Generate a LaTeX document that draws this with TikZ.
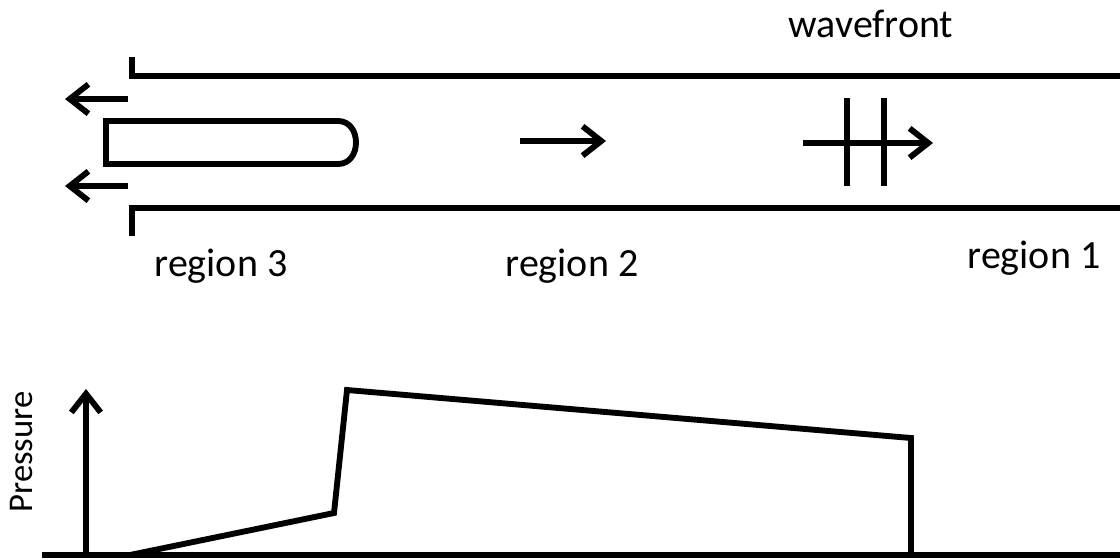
\documentclass[tikz,border=0pt]{standalone}
\usepackage{fontspec}
\setmainfont{Carlito}
\usetikzlibrary{arrows.meta}
\begin{document}
\begin{tikzpicture}[x=0.75pt,y=-0.75pt,
  thick line/.style={line width=4.4pt},
  barb/.style={-{Straight Barb[length=14pt,width=22pt,line width=4.4pt]}},
  lbl/.style={font=\fontsize{30}{36}\selectfont, anchor=base, inner sep=0pt}]
\useasboundingbox (0,0) rectangle (1120,560);
% tube
\draw[thick line] (132,57) -- (132,76) -- (1125,76);
\draw[thick line] (132,236) -- (132,208) -- (1125,208);
% left outflow arrows
\coordinate (la1) at (128,99);
\coordinate (la1t) at (65,99);
\coordinate (la2) at (128,186);
\coordinate (la2t) at (65,186);
\draw[thick line,barb] (la1) -- (la1t);
\draw[thick line,barb] (la2) -- (la2t);
% probe
\draw[thick line] (338,121) -- (106,121) -- (106,164) -- (338,164)
  .. controls (362,164) and (362,121) .. (338,121) -- cycle;
% region 2 arrow
\coordinate (m1) at (520,141);
\coordinate (m2) at (606,141);
\draw[thick line,barb] (m1) -- (m2);
% wavefront arrow
\coordinate (w1) at (803,143);
\coordinate (w2) at (933,143);
\draw[thick line,barb] (w1) -- (w2);
\draw[thick line] (847,98) -- (847,186);
\draw[thick line] (884,98) -- (884,186);
% labels
\node[lbl] (wf) at (871,38) {wavefront};
\node[lbl] (r3) at (221,276) {region 3};
\node[lbl] (r2) at (572,276) {region 2};
\node[lbl] (r1) at (1034,268) {region 1};
% pressure plot
\draw[thick line] (42,555) -- (1125,555);
\coordinate (ax0) at (86,555);
\coordinate (ax1) at (86,389);
\draw[thick line,barb] (ax0) -- (ax1);
\node[font=\fontsize{26}{31}\selectfont, rotate=90, inner sep=0pt] (pl) at (22,452) {Pressure};
\draw[thick line,line join=miter] (130,555) -- (334,513) -- (347,390) -- (911,438) -- (911,555);
\end{tikzpicture}
\end{document}
